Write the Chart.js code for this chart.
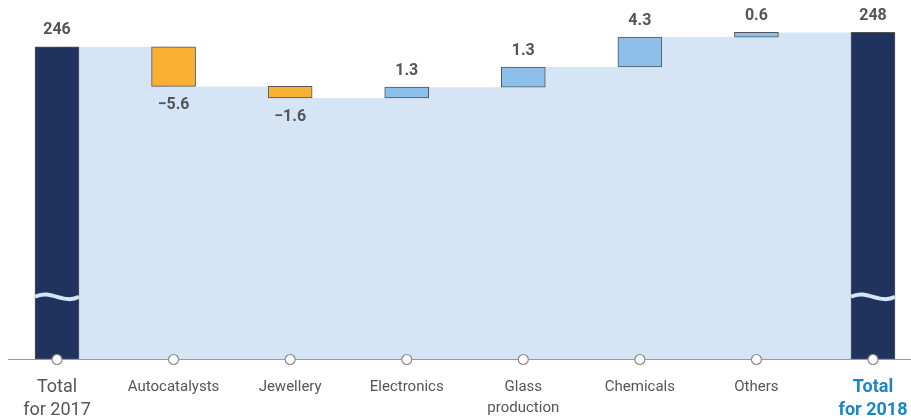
<!DOCTYPE html>
<html>
<head>
<meta charset="utf-8">
<script src="https://cdn.jsdelivr.net/npm/chart.js@4.4.1/dist/chart.umd.min.js"></script>
<style>
  html, body { margin: 0; padding: 0; background: #fff; }
  #wrap { width: 911px; height: 420px; position: relative; }
</style>
</head>
<body>
<div id="wrap"><canvas id="c"></canvas></div>
<script>
const categories = [['Total', 'for 2017'], 'Autocatalysts', 'Jewellery', 'Electronics',
  ['Glass', 'production'], 'Chemicals', 'Others', ['Total', 'for 2018']];
const totals = [246, 248];
const changes = [-5.6, -1.6, 1.3, 1.3, 4.3, 0.6];
// level reached after each category, as drawn in the picture (not to strict scale)
const levels = [246, 240.5, 238.9, 240.4, 243.2, 247.35, 248, 248];

const AXIS_MIN = 202.6;   // broken axis: bars start here
const AXIS_MAX = 252.5;
const BREAK_VALUE = 211.3; // where the wave break sits on the total bars

const NAVY = '#20325e';
const ORANGE = '#f8b133';
const BLUE = '#8cbfe9';
const AREA = '#d5e5f6';
const TEXT = '#555555';
const HILITE = '#1a86c8';

const last = categories.length - 1;
const barData = categories.map((_, i) => {
  if (i === 0 || i === last) return [AXIS_MIN, levels[i]];
  return [levels[i - 1], levels[i]].sort((a, b) => a - b);
});
const barColors = categories.map((_, i) => {
  if (i === 0 || i === last) return NAVY;
  return changes[i - 1] < 0 ? ORANGE : BLUE;
});
const valueText = categories.map((_, i) => {
  if (i === 0) return String(totals[0]);
  if (i === last) return String(totals[1]);
  const v = changes[i - 1];
  return (v < 0 ? '\u2212' : '') + Math.abs(v).toFixed(1);
});

const axisPlugin = {
  id: 'axisLine',
  afterDatasetDraw(chart, args) {
    if (args.index !== 1) return;
    const { ctx, chartArea } = chart;
    ctx.save();
    ctx.strokeStyle = '#9a9a9a';
    ctx.lineWidth = 1.2;
    ctx.beginPath();
    ctx.moveTo(8, chartArea.bottom);
    ctx.lineTo(chart.width, chartArea.bottom);
    ctx.stroke();
    ctx.restore();
  },
};

const labelPlugin = {
  id: 'waterfallLabels',
  afterDatasetsDraw(chart) {
    const { ctx, scales } = chart;
    const meta = chart.getDatasetMeta(1);
    ctx.save();
    // wave breaks on the total bars
    const yb = scales.y.getPixelForValue(BREAK_VALUE);
    [0, last].forEach(i => {
      const el = meta.data[i];
      const l = el.x - el.width / 2, r = el.x + el.width / 2, w = r - l;
      ctx.beginPath();
      ctx.moveTo(l, yb);
      ctx.bezierCurveTo(l + w * 0.35, yb - 8, l + w * 0.65, yb + 8, r, yb);
      ctx.strokeStyle = AREA;
      ctx.lineWidth = 4;
      ctx.stroke();
    });
    // value labels
    ctx.font = 'bold 16px Roboto';
    ctx.fillStyle = TEXT;
    ctx.textAlign = 'center';
    ctx.textBaseline = 'middle';
    meta.data.forEach((el, i) => {
      const top = Math.min(el.y, el.base);
      const bottom = Math.max(el.y, el.base);
      const neg = i > 0 && i < last && changes[i - 1] < 0;
      ctx.fillText(valueText[i], el.x, neg ? bottom + 19 : top - 16.5);
    });
    ctx.restore();
  },
};

new Chart(document.getElementById('c'), {
  type: 'bar',
  data: {
    labels: categories,
    datasets: [
      {
        type: 'line',
        data: levels,
        stepped: true,
        fill: 'start',
        backgroundColor: AREA,
        borderColor: 'transparent',
        borderWidth: 0,
        pointRadius: 0,
        order: 3,
      },
      {
        type: 'bar',
        data: barData,
        backgroundColor: barColors,
        borderColor: '#555555',
        borderWidth: 1,
        borderSkipped: false,
        barThickness: 44,
        clip: false,
        order: 2,
      },
      {
        type: 'line',
        data: categories.map(() => AXIS_MIN),
        showLine: false,
        pointRadius: 5,
        pointBackgroundColor: '#ffffff',
        pointBorderColor: '#8a8a8a',
        pointBorderWidth: 1.2,
        clip: false,
        order: 1,
      },
    ],
  },
  options: {
    responsive: true,
    maintainAspectRatio: false,
    animation: false,
    layout: { autoPadding: false, padding: { left: 57, right: 38, top: 0, bottom: 0 } },
    plugins: { legend: { display: false }, tooltip: { enabled: false } },
    scales: {
      x: {
        offset: false,
        grid: { display: false, drawTicks: false },
        border: { display: false },
        afterFit: s => {
          s.height = 60.5;
          s.paddingLeft = 0; s.paddingRight = 0; s.paddingTop = 0; s.paddingBottom = 0;
        },
        ticks: {
          autoSkip: false,
          maxRotation: 0,
          padding: 17,
          color: ctx => ctx.index === last ? HILITE : TEXT,
          font: ctx => {
            if (ctx.index === 0) return { family: 'Roboto', size: 18, lineHeight: 1.25 };
            if (ctx.index === last) return { family: 'Roboto', size: 18, weight: 'bold', lineHeight: 1.25 };
            return { family: 'Roboto', size: 15, lineHeight: 1.4 };
          },
        },
      },
      y: {
        display: false, min: AXIS_MIN, max: AXIS_MAX,
        afterFit: s => { s.paddingTop = 0; s.paddingBottom = 0; },
      },
    },
  },
  plugins: [axisPlugin, labelPlugin],
});
</script>
</body>
</html>
